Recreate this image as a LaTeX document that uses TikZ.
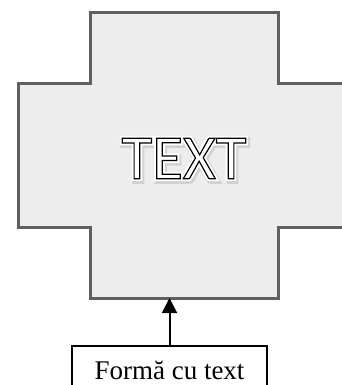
\documentclass[tikz,border=0pt]{standalone}
\usepackage{fontspec}
\setmainfont{Liberation Serif}
\newfontfamily\carlito{Carlito}
\usetikzlibrary{arrows.meta}
\definecolor{crossfill}{HTML}{EDEDED}
\definecolor{crossline}{HTML}{606060}
% outlined letters: fill in the current colour, stroke set by hand
\newcommand\outlined[3]{\special{pdf:literal direct #1 w #2 2 Tr}#3\special{pdf:literal direct 0 Tr}}
\begin{document}
\begin{tikzpicture}[x=1pt,y=-1pt,>={Triangle[length=15pt,width=15pt]}]
			\useasboundingbox (0,0) rectangle (342,385);
			\clip (0,0) rectangle (342,385);
			\path
			(90,13) coordinate (A)
			(278,13) coordinate (B)
			(169,298) coordinate (bot)
			;
			\draw[fill=crossfill,draw=crossline,line width=3pt] (A)--(B)--(278,84)--(350,84)--(350,227)--(278,227)--(278,298)--(90,298)--(90,227)--(18,227)--(18,84)--(90,84)--cycle;
			\node[text=black!18,font=\carlito\fontsize{63}{63}\selectfont] at (185.3,160.3) {\outlined{6.5}{0.82 G}{TEXT}};
			\node[text=white,font=\carlito\fontsize{63}{63}\selectfont] at (184,158.5) {\outlined{5}{1 G}{TEXT}};
			\node (word) [text=white,font=\carlito\fontsize{63}{63}\selectfont] at (184,158.5) {\outlined{1.2}{0 G}{TEXT}};
			\node (label) [draw,line width=1.5pt,minimum width=195pt,minimum height=50pt,inner sep=0pt,font=\fontsize{27}{27}\selectfont,anchor=north] at (169.5,345) {Formă cu text};
			\draw[->,line width=2pt] (label.north) -- (label.north |- bot);
	\end{tikzpicture}
\end{document}
